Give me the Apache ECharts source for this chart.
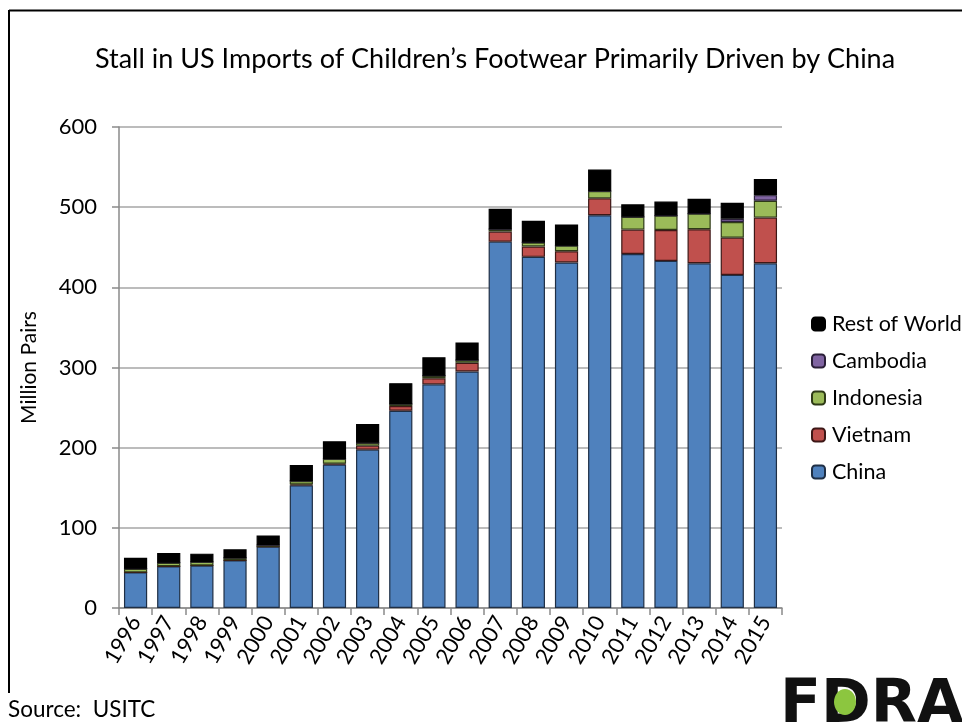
<!DOCTYPE html>
<html>
<head>
<meta charset="utf-8">
<script src="https://cdn.jsdelivr.net/npm/echarts@6/dist/echarts.min.js"></script>
<style>
  html, body { margin: 0; padding: 0; background: #fff; }
  #chart { width: 962px; height: 725px; }
</style>
</head>
<body>
<div id="chart"></div>
<script>
// US imports of children's footwear, million pairs, by source country
const years = ['1996','1997','1998','1999','2000','2001','2002','2003','2004','2005',
               '2006','2007','2008','2009','2010','2011','2012','2013','2014','2015'];
const china     = [44.5, 52, 53, 59.5, 76.5, 153, 179, 197.5, 246, 279, 295, 457, 438, 431, 490, 441.5, 433, 430, 415.5, 430];
const vietnam   = [0, 0, 0, 0, 0, 1, 1, 5, 6, 7.5, 11, 12.5, 13, 14, 21, 30.5, 38.5, 42.5, 46.5, 57];
const indonesia = [4.5, 4.5, 4.5, 3, 2, 4.5, 6, 3.5, 2.5, 3.3, 3.3, 3, 5, 7, 9, 16, 18, 19.5, 19.5, 21];
const cambodia  = [0, 0, 0, 0, 0, 0, 0, 0, 0, 0, 0, 0, 0, 0, 0, 0, 0, 0, 4, 7];
const restOfWorld = [13.7, 12, 10.3, 10.7, 12, 20, 22, 23.5, 26, 23, 22, 25.5, 27, 26.5, 27, 15.5, 17.5, 18.5, 20, 20];
const yTicks = [0, 100, 200, 300, 400, 500, 600];

const FONT = 'Lato, "Open Sans", sans-serif';

const seriesDefs = [
  { name: 'China',         data: china,       color: '#4F81BD', border: '#1f2f45' },
  { name: 'Vietnam',       data: vietnam,     color: '#C0504D', border: '#3d1716' },
  { name: 'Indonesia',     data: indonesia,   color: '#9BBB59', border: '#2e3a17' },
  { name: 'Cambodia',      data: cambodia,    color: '#8064A2', border: '#2a1f38' },
  { name: 'Rest of World', data: restOfWorld, color: '#000000', border: '#000000' }
];

const chart = echarts.init(document.getElementById('chart'), null, { renderer: 'canvas' });

chart.setOption({
  backgroundColor: '#ffffff',
  animation: false,
  title: {
    text: 'Stall in US Imports of Children\u2019s Footwear Primarily Driven by China',
    left: 490, top: 41, textAlign: 'center',
    textStyle: { fontFamily: FONT, fontSize: 27, fontWeight: 'normal', color: '#000' }
  },
  legend: {
    orient: 'vertical',
    left: 806, top: 308,
    itemGap: 15, itemWidth: 13, itemHeight: 13,
    data: ['Rest of World', 'Cambodia', 'Indonesia', 'Vietnam', 'China'],
    textStyle: { fontFamily: FONT, fontSize: 21.5, color: '#000', padding: [0, 0, 0, 2] }
  },
  grid: { left: 119, right: 180, top: 127, bottom: 117, containLabel: false },
  xAxis: {
    type: 'category',
    data: years,
    axisLine: { lineStyle: { color: '#8a8a8a', width: 1.5 } },
    axisTick: { show: true, alignWithLabel: false, length: 7, lineStyle: { color: '#8a8a8a', width: 1.5 } },
    axisLabel: { rotate: 60, fontFamily: FONT, fontSize: 22, color: '#000', margin: 10, interval: 0 }
  },
  yAxis: {
    type: 'value',
    min: yTicks[0], max: yTicks[yTicks.length - 1], interval: 100,
    name: 'Million Pairs',
    nameLocation: 'middle', nameGap: 79, nameRotate: 90,
    nameTextStyle: { fontFamily: FONT, fontSize: 21, color: '#000' },
    axisLine: { show: true, lineStyle: { color: '#8a8a8a', width: 1.5 } },
    axisTick: { show: true, inside: false, length: 7, lineStyle: { color: '#8a8a8a', width: 1.5 } },
    axisLabel: { fontFamily: FONT, fontSize: 22, color: '#000', margin: 22 },
    splitLine: { lineStyle: { color: '#a6a6a6', width: 1.5 } }
  },
  series: seriesDefs.map(s => ({
    name: s.name,
    type: 'bar',
    stack: 'total',
    data: s.data,
    barCategoryGap: '30%',
    itemStyle: { color: s.color, borderColor: s.border, borderWidth: 1.2 }
  })),
  graphic: [
    // frame around the chart (top and left edges)
    { type: 'line', shape: { x1: 9, y1: 10.5, x2: 962, y2: 10.5 }, style: { stroke: '#000', lineWidth: 2 } },
    { type: 'line', shape: { x1: 9, y1: 10, x2: 9, y2: 693 }, style: { stroke: '#000', lineWidth: 2 } },
    { type: 'text', left: 8, top: 698,
      style: { text: 'Source:  USITC', fontFamily: FONT, fontSize: 22.5, fill: '#000' } },
    // FDRA logo mark
    { type: 'text', left: 780, top: 676,
      style: { text: 'FDRA', fontFamily: '"DejaVu Sans", sans-serif', fontWeight: 'bold', fontSize: 60, fill: '#111' } },
    { type: 'ellipse', shape: { cx: 845, cy: 702, rx: 11, ry: 13 }, style: { fill: '#8cc63f' } }
  ]
});
</script>
</body>
</html>
